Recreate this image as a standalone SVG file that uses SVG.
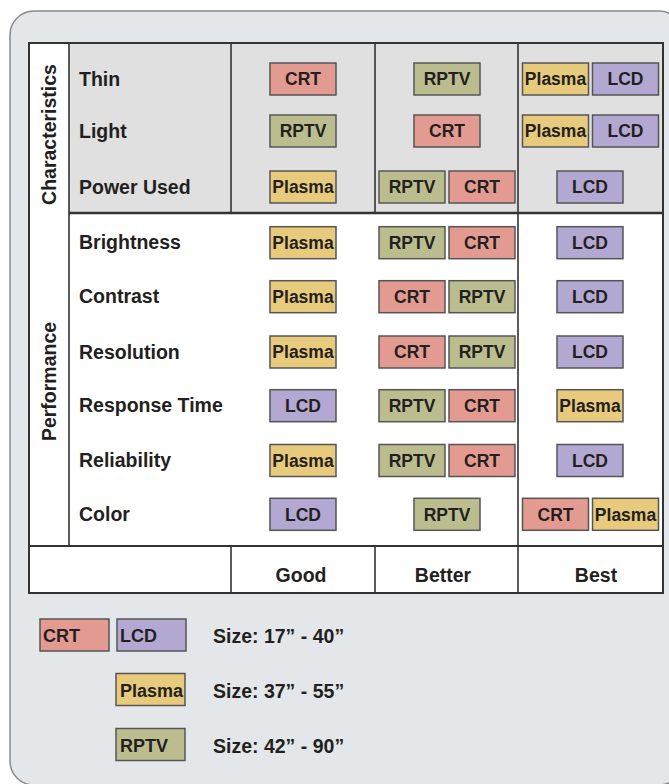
<svg xmlns="http://www.w3.org/2000/svg" width="669" height="784" viewBox="0 0 669 784">
<style>
text{font-family:"Liberation Sans",Arial,sans-serif;font-weight:bold;fill:#231f20}
.lbl{font-size:19.5px}
.bx{font-size:17.5px;text-anchor:middle}
.lg{font-size:18px}
.hd{font-size:19.5px;text-anchor:middle}
rect.b{stroke:#555;stroke-width:1.5}
.crt{fill:#e39b91}.lcd{fill:#b2a8d2}.pla{fill:#e8ca7c}.rptv{fill:#bcbd8f}
.ln{stroke:#333;stroke-width:1.6;fill:none}
</style>
<rect id="panel" x="10" y="11" width="673" height="774" rx="24" fill="#e4e7ea" stroke="#8a8a8a" stroke-width="1.5"/>
<g id="table">
<rect x="29" y="43" width="634" height="550" fill="#fff"/>
<rect x="69" y="43" width="594" height="170" fill="#e0e0e0"/>
<g class="ln">
<rect x="29" y="43" width="634" height="550" stroke-width="2"/>
<line x1="69" y1="43" x2="69" y2="546"/>
<line x1="231" y1="43" x2="231" y2="213"/>
<line x1="375" y1="43" x2="375" y2="213"/>
<line x1="231" y1="546" x2="231" y2="593"/>
<line x1="375" y1="546" x2="375" y2="593"/>
<line x1="518" y1="43" x2="518" y2="593"/>
<line x1="69" y1="213" x2="663" y2="213" stroke-width="2.4"/>
<line x1="29" y1="546" x2="663" y2="546" stroke-width="2"/>
</g>
</g>
<g id="section-labels">
<text class="lbl" transform="translate(56,134.5) rotate(-90)" text-anchor="middle">Characteristics</text>
<text class="lbl" transform="translate(56,381.5) rotate(-90)" text-anchor="middle">Performance</text>
</g>
<g id="row-labels">
<text class="lbl" x="79" y="85.5">Thin</text>
<text class="lbl" x="79" y="137.5">Light</text>
<text class="lbl" x="79" y="193.5">Power Used</text>
<text class="lbl" x="79" y="249.2">Brightness</text>
<text class="lbl" x="79" y="303.2">Contrast</text>
<text class="lbl" x="79" y="358.5">Resolution</text>
<text class="lbl" x="79" y="412.2">Response Time</text>
<text class="lbl" x="79" y="467">Reliability</text>
<text class="lbl" x="79" y="520.8">Color</text>
</g>
<g id="column-headers">
<text class="hd" x="301" y="581.5">Good</text>
<text class="hd" x="443" y="581.5">Better</text>
<text class="hd" x="596" y="581.5">Best</text>
</g>
<g id="thin">
<g id="thin-good"><rect class="b crt" x="270" y="63" width="66" height="32"/><text class="bx" x="303" y="85.3">CRT</text></g>
<g id="thin-better"><rect class="b rptv" x="414" y="63" width="66" height="32"/><text class="bx" x="447" y="85.3">RPTV</text></g>
<g id="thin-best1"><rect class="b pla" x="522.5" y="63" width="66" height="32"/><text class="bx" x="555.5" y="85.3">Plasma</text></g>
<g id="thin-best2"><rect class="b lcd" x="592.5" y="63" width="66" height="32"/><text class="bx" x="625.5" y="85.3">LCD</text></g>
</g>
<g id="light">
<g id="light-good"><rect class="b rptv" x="270" y="115" width="66" height="32"/><text class="bx" x="303" y="137.3">RPTV</text></g>
<g id="light-better"><rect class="b crt" x="414" y="115" width="66" height="32"/><text class="bx" x="447" y="137.3">CRT</text></g>
<g id="light-best1"><rect class="b pla" x="522.5" y="115" width="66" height="32"/><text class="bx" x="555.5" y="137.3">Plasma</text></g>
<g id="light-best2"><rect class="b lcd" x="592.5" y="115" width="66" height="32"/><text class="bx" x="625.5" y="137.3">LCD</text></g>
</g>
<g id="power">
<g id="power-good"><rect class="b pla" x="270" y="171" width="66" height="32"/><text class="bx" x="303" y="193.3">Plasma</text></g>
<g id="power-better1"><rect class="b rptv" x="379" y="171" width="66" height="32"/><text class="bx" x="412" y="193.3">RPTV</text></g>
<g id="power-better2"><rect class="b crt" x="449" y="171" width="66" height="32"/><text class="bx" x="482" y="193.3">CRT</text></g>
<g id="power-best"><rect class="b lcd" x="557" y="171" width="66" height="32"/><text class="bx" x="590" y="193.3">LCD</text></g>
</g>
<g id="brightness">
<g id="bright-good"><rect class="b pla" x="270" y="226.7" width="66" height="32"/><text class="bx" x="303" y="249">Plasma</text></g>
<g id="bright-better1"><rect class="b rptv" x="379" y="226.7" width="66" height="32"/><text class="bx" x="412" y="249">RPTV</text></g>
<g id="bright-better2"><rect class="b crt" x="449" y="226.7" width="66" height="32"/><text class="bx" x="482" y="249">CRT</text></g>
<g id="bright-best"><rect class="b lcd" x="557" y="226.7" width="66" height="32"/><text class="bx" x="590" y="249">LCD</text></g>
</g>
<g id="contrast">
<g id="contrast-good"><rect class="b pla" x="270" y="280.7" width="66" height="32"/><text class="bx" x="303" y="303">Plasma</text></g>
<g id="contrast-better1"><rect class="b crt" x="379" y="280.7" width="66" height="32"/><text class="bx" x="412" y="303">CRT</text></g>
<g id="contrast-better2"><rect class="b rptv" x="449" y="280.7" width="66" height="32"/><text class="bx" x="482" y="303">RPTV</text></g>
<g id="contrast-best"><rect class="b lcd" x="557" y="280.7" width="66" height="32"/><text class="bx" x="590" y="303">LCD</text></g>
</g>
<g id="resolution">
<g id="res-good"><rect class="b pla" x="270" y="336" width="66" height="32"/><text class="bx" x="303" y="358.3">Plasma</text></g>
<g id="res-better1"><rect class="b crt" x="379" y="336" width="66" height="32"/><text class="bx" x="412" y="358.3">CRT</text></g>
<g id="res-better2"><rect class="b rptv" x="449" y="336" width="66" height="32"/><text class="bx" x="482" y="358.3">RPTV</text></g>
<g id="res-best"><rect class="b lcd" x="557" y="336" width="66" height="32"/><text class="bx" x="590" y="358.3">LCD</text></g>
</g>
<g id="response">
<g id="resp-good"><rect class="b lcd" x="270" y="389.7" width="66" height="32"/><text class="bx" x="303" y="412">LCD</text></g>
<g id="resp-better1"><rect class="b rptv" x="379" y="389.7" width="66" height="32"/><text class="bx" x="412" y="412">RPTV</text></g>
<g id="resp-better2"><rect class="b crt" x="449" y="389.7" width="66" height="32"/><text class="bx" x="482" y="412">CRT</text></g>
<g id="resp-best"><rect class="b pla" x="557" y="389.7" width="66" height="32"/><text class="bx" x="590" y="412">Plasma</text></g>
</g>
<g id="reliability">
<g id="rel-good"><rect class="b pla" x="270" y="444.5" width="66" height="32"/><text class="bx" x="303" y="466.8">Plasma</text></g>
<g id="rel-better1"><rect class="b rptv" x="379" y="444.5" width="66" height="32"/><text class="bx" x="412" y="466.8">RPTV</text></g>
<g id="rel-better2"><rect class="b crt" x="449" y="444.5" width="66" height="32"/><text class="bx" x="482" y="466.8">CRT</text></g>
<g id="rel-best"><rect class="b lcd" x="557" y="444.5" width="66" height="32"/><text class="bx" x="590" y="466.8">LCD</text></g>
</g>
<g id="color">
<g id="color-good"><rect class="b lcd" x="270" y="498.3" width="66" height="32"/><text class="bx" x="303" y="520.6">LCD</text></g>
<g id="color-better"><rect class="b rptv" x="414" y="498.3" width="66" height="32"/><text class="bx" x="447" y="520.6">RPTV</text></g>
<g id="color-best1"><rect class="b crt" x="522.5" y="498.3" width="66" height="32"/><text class="bx" x="555.5" y="520.6">CRT</text></g>
<g id="color-best2"><rect class="b pla" x="592.5" y="498.3" width="66" height="32"/><text class="bx" x="625.5" y="520.6">Plasma</text></g>
</g>
<g id="legend">
<g id="leg-crt"><rect class="b crt" x="40" y="619" width="69" height="32"/><text class="lg" x="43" y="642">CRT</text></g>
<g id="leg-lcd"><rect class="b lcd" x="117" y="619" width="69" height="32"/><text class="lg" x="120" y="642">LCD</text></g>
<g id="leg-plasma"><rect class="b pla" x="116" y="673.5" width="69" height="32"/><text class="lg" x="120" y="697">Plasma</text></g>
<g id="leg-rptv"><rect class="b rptv" x="116" y="728.5" width="69" height="32"/><text class="lg" x="120" y="752">RPTV</text></g>
<text class="lbl" x="213" y="643.3">Size: 17” - 40”</text>
<text class="lbl" x="213" y="698.3">Size: 37” - 55”</text>
<text class="lbl" x="213" y="753.3">Size: 42” - 90”</text>
</g>
</svg>
